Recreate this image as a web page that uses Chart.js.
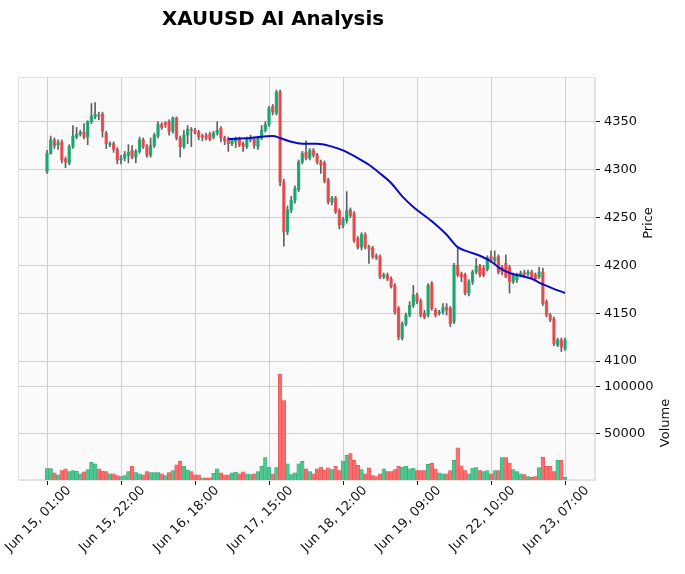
<!DOCTYPE html>
<html><head><meta charset="utf-8">
<script src="https://cdn.jsdelivr.net/npm/chart.js@4.4.0/dist/chart.umd.min.js"></script>
<style>
html,body{margin:0;padding:0;background:#fff;}
#wrap{position:relative;width:685px;height:574px;}
#c{position:absolute;left:0;top:0;}
.lbl{position:absolute;font-family:"DejaVu Sans";color:#000;white-space:nowrap;}
#title{left:162px;top:9px;font-size:19.8px;font-weight:bold;line-height:20px;}
.ax{font-size:13px;line-height:13px;transform:translate(-50%,-50%) rotate(-90deg);color:#101010;}
</style></head>
<body><div id="wrap"><canvas id="c" width="685" height="574"></canvas>
<div id="title" class="lbl">XAUUSD AI Analysis</div>
<div class="lbl ax" style="left:647px;top:223px">Price</div>
<div class="lbl ax" style="left:664px;top:423px">Volume</div>
</div>
<script>
const tickLabels = ["Jun 15, 01:00","Jun 15, 22:00","Jun 16, 18:00","Jun 17, 15:00","Jun 18, 12:00","Jun 19, 09:00","Jun 22, 10:00","Jun 23, 07:00"];
const tickIndex = [0,20,40,60,80,100,120,140];
const priceTicks = [4100,4150,4200,4250,4300,4350];
const volumeTicks = [50000,100000];

const opens = [4298,4317,4331,4326,4329,4311,4307,4324,4334,4337,4339,4334,4350,4355,4357,4358,4338,4326,4327,4321,
4310,4312,4315,4320,4313,4319,4331,4324,4315,4325,4335,4347,4349,4350,4340,4354,4333,4324,4336,4342,
4341,4339,4335,4336,4337,4334,4338,4343,4333,4332,4327,4329,4332,4327,4324,4331,4332,4324,4333,4341,
4347,4366,4359,4381,4287,4235,4258,4268,4279,4308,4318,4312,4320,4315,4308,4307,4289,4266,4270,4257,
4242,4247,4258,4254,4228,4219,4232,4219,4218,4210,4209,4188,4190,4186,4179,4155,4124,4139,4148,4158,
4169,4163,4150,4148,4181,4153,4150,4151,4156,4155,4141,4200,4191,4190,4171,4183,4193,4199,4197,4196,
4209,4205,4209,4198,4202,4198,4183,4185,4190,4192,4191,4193,4190,4188,4193,4162,4148,4144,4117,4122,4113];
const highs = [4320,4335,4333,4331,4331,4313,4326,4346,4344,4341,4348,4351,4369,4370,4360,4360,4340,4329,4329,4323,
4315,4319,4326,4325,4321,4334,4333,4326,4333,4338,4350,4349,4350,4352,4355,4355,4335,4341,4346,4344,
4343,4341,4337,4338,4339,4340,4350,4345,4335,4334,4333,4334,4334,4329,4334,4336,4334,4335,4346,4350,
4366,4368,4383,4383,4290,4262,4272,4283,4310,4319,4330,4322,4322,4317,4310,4309,4291,4272,4272,4259,
4250,4277,4260,4256,4230,4234,4234,4221,4220,4212,4211,4192,4192,4188,4181,4157,4141,4150,4162,4179,
4171,4165,4153,4181,4183,4155,4153,4160,4160,4157,4202,4219,4193,4192,4185,4195,4207,4201,4200,4210,
4215,4215,4211,4200,4211,4200,4192,4192,4194,4195,4195,4195,4192,4198,4197,4164,4150,4146,4124,4124,4124];
const lows = [4296,4316,4322,4321,4307,4302,4305,4322,4332,4335,4332,4326,4348,4353,4352,4334,4322,4324,4318,4306,
4306,4309,4307,4311,4307,4317,4322,4313,4313,4323,4333,4342,4344,4336,4338,4331,4313,4322,4327,4324,
4337,4331,4330,4331,4330,4332,4336,4329,4326,4319,4325,4323,4324,4319,4322,4329,4322,4321,4331,4339,
4345,4357,4357,4283,4220,4232,4255,4265,4277,4306,4310,4310,4313,4306,4296,4286,4264,4263,4254,4238,
4239,4244,4250,4224,4217,4216,4217,4202,4207,4206,4186,4186,4184,4176,4149,4122,4122,4137,4146,4156,
4160,4146,4144,4146,4153,4146,4148,4149,4148,4136,4139,4188,4183,4169,4168,4180,4191,4188,4188,4194,
4203,4202,4191,4190,4187,4171,4181,4182,4188,4188,4189,4186,4184,4186,4158,4146,4141,4116,4115,4110,4111];
const closes = [4317,4331,4325,4328,4310,4308,4324,4335,4337,4339,4334,4350,4356,4358,4356,4340,4327,4327,4321,4310,
4312,4316,4318,4313,4319,4331,4324,4315,4325,4336,4347,4344,4347,4340,4354,4333,4324,4336,4342,4341,
4339,4334,4334,4333,4332,4338,4341,4333,4330,4327,4331,4332,4326,4324,4332,4334,4325,4333,4341,4347,
4364,4360,4381,4287,4235,4258,4268,4280,4308,4317,4312,4320,4315,4308,4305,4288,4266,4270,4256,4242,
4248,4257,4252,4226,4219,4232,4219,4217,4209,4208,4188,4190,4186,4178,4151,4125,4139,4148,4158,4169,
4162,4148,4146,4179,4155,4148,4151,4156,4153,4139,4200,4190,4188,4171,4183,4193,4199,4190,4190,4208,
4205,4208,4193,4193,4188,4183,4190,4190,4192,4190,4193,4188,4186,4193,4160,4148,4143,4118,4122,4115,4122];
const volumes = [12300,12300,7600,5400,10100,12000,9000,10100,9400,6500,8700,11200,18800,17400,12000,9400,9000,6500,6500,4700,
3600,4700,9000,14500,8000,6500,5400,9000,8000,8000,8000,6500,4700,8000,10100,16300,19900,14500,10900,9000,
5400,5400,2200,2200,2200,7200,12000,7600,5400,5400,7600,8300,6500,8700,6500,5800,6500,9000,14500,23900,
13800,6500,13400,113400,85100,17400,5800,7600,17400,19900,12000,9000,6500,12000,13800,10900,13000,11200,14500,10100,
20300,26400,28300,21000,15600,11200,6500,13000,4700,3600,6500,12000,9000,9000,11200,14500,13800,14500,12000,12700,
10100,10100,10100,16700,18100,12000,7600,6500,6500,10100,21000,34400,15200,10100,6500,12700,13400,10100,9000,10100,
6500,10100,10100,23900,23900,18100,11200,9000,6500,5800,3600,2900,3600,13400,24300,14500,14500,9000,21000,21000,2900];

// moving-average line at these candle positions
const maIndex  = [49,55,61,63,66,69,73,77,80,84,87,90,93,96,99,104,108,111,114,117,120,122,125,128,131,133,136,140];
const maValues = [4332,4333,4335,4333,4329,4327,4327,4324,4320,4312,4305,4296,4286,4272,4261,4246,4232,4219,4214,4210,4204,4198,4192,4189,4186,4182,4177,4171];

const UP = 'rgba(20,168,110,0.9)', DOWN = 'rgba(240,70,75,0.88)';
const VUP = '#4dc790', VDOWN = '#fd6b6c';
const idx = opens.map((_, i) => i);
const up = idx.map(i => closes[i] >= opens[i]);
const vup = idx.map(i => closes[i] >= (i ? closes[i-1] : opens[i]));

const plotBg = {
  id: 'plotBg',
  beforeDraw(chart) {
    const {ctx, chartArea: a} = chart;
    ctx.save();
    ctx.fillStyle = '#fafafa';
    ctx.fillRect(a.left, a.top, a.right - a.left, a.bottom - a.top);
    ctx.strokeStyle = '#e3e3e3';
    ctx.lineWidth = 1;
    ctx.strokeRect(a.left + 0.5, a.top + 0.5, a.right - a.left - 1, a.bottom - a.top - 1);
    ctx.restore();
  }
};

const tickFont = {family: 'DejaVu Sans', size: 13};

new Chart(document.getElementById('c'), {
  type: 'bar',
  data: {
    datasets: [
      { type: 'line', data: maIndex.map((x, k) => ({x, y: maValues[k]})), yAxisID: 'yPrice',
        borderColor: '#0a0acc', borderWidth: 2, pointRadius: 0, cubicInterpolationMode: 'monotone', order: 0 },
      { data: idx.map(i => ({x: i, y: [opens[i], closes[i]]})), yAxisID: 'yPrice',
        backgroundColor: idx.map(i => up[i] ? UP : DOWN), barThickness: 2.6, minBarLength: 1, grouped: false, order: 1 },
      { data: idx.map(i => ({x: i, y: [lows[i], highs[i]]})), yAxisID: 'yPrice',
        backgroundColor: '#606060', barThickness: 1, grouped: false, order: 2 },
      { data: idx.map(i => ({x: i, y: volumes[i]})), yAxisID: 'yVol',
        backgroundColor: idx.map(i => vup[i] ? VUP : VDOWN),
        borderColor: idx.map(i => vup[i] ? '#2e9e6c' : '#d94a4b'), borderWidth: 0.5,
        barThickness: 3.6, grouped: false, order: 3 }
    ]
  },
  options: {
    responsive: false,
    animation: false,
    layout: {padding: {left: 18, top: 77, right: 0, bottom: 0}},
    plugins: {legend: {display: false}, tooltip: {enabled: false}, title: {display: false}},
    scales: {
      x: {
        type: 'linear', min: -7.84, max: 148.1, offset: false,
        grid: {color: '#d0d0d0', offset: false, tickColor: '#222', tickLength: 5},
        border: {color: '#e3e3e3'},
        afterBuildTicks: s => { s.ticks = tickIndex.map(v => ({value: v})); },
        ticks: {callback: (v, i) => tickLabels[i], maxRotation: 45, minRotation: 45, autoSkip: false,
                font: tickFont, color: '#101010', labelOffset: 22, padding: -2},
        afterFit: s => { s.height = 94; s.paddingLeft = 0; s.paddingRight = 0; }
      },
      yPrice: {
        type: 'linear', position: 'right', stack: 'v', stackWeight: 285, min: 4099, max: 4396.7,
        grid: {color: '#d0d0d0', tickColor: '#222', tickLength: 5},
        border: {color: '#e3e3e3'},
        afterBuildTicks: s => { s.ticks = priceTicks.map(v => ({value: v})); },
        ticks: {font: tickFont, color: '#101010', padding: 4, callback: v => String(v)},
        afterFit: s => { s.width = 90; s.paddingTop = 0; s.paddingBottom = 0; }
      },
      yVol: {
        type: 'linear', position: 'right', stack: 'v', stackWeight: 118, min: 0, max: 126300,
        grid: {color: '#d0d0d0', tickColor: '#222', tickLength: 5},
        border: {color: '#e3e3e3'},
        afterBuildTicks: s => { s.ticks = volumeTicks.map(v => ({value: v})); },
        ticks: {font: tickFont, color: '#101010', padding: 4, callback: v => String(v)},
        afterFit: s => { s.width = 90; s.paddingTop = 0; s.paddingBottom = 0; }
      }
    }
  },
  plugins: [plotBg]
});
</script>
</body></html>
